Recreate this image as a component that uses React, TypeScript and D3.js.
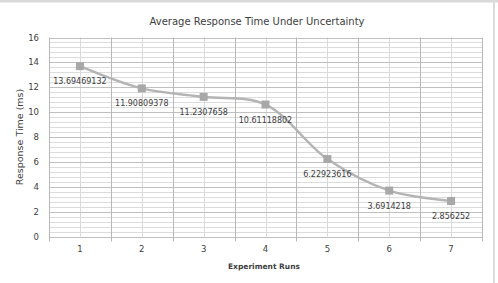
import React from "react";
import * as d3 from "d3";

const runs = ["1", "2", "3", "4", "5", "6", "7"];
const responseTimes = [13.69469132, 11.90809378, 11.2307658, 10.61118802, 6.22923616, 3.6914218, 2.856252];
const valueLabels = ["13.69469132", "11.90809378", "11.2307658", "10.61118802", "6.22923616", "3.6914218", "2.856252"];
const yTicks = [0, 2, 4, 6, 8, 10, 12, 14, 16];

const W = 498;
const H = 283;
const left = 49;
const right = 482;
const top = 37.5;
const bottom = 236.5;
const FONT = "'DejaVu Sans', Verdana, sans-serif";

export default function App() {
  const x = d3.scaleBand<string>().domain(runs).range([left, right]).padding(0);
  const y = d3.scaleLinear().domain([0, 16]).range([bottom, top]);
  const cx = (i: number) => (x(runs[i]) as number) + x.bandwidth() / 2;

  const minorTicks = d3.range(0, 16.001, 0.4);
  const line = d3
    .line<number>()
    .x((_, i) => cx(i))
    .y((d) => y(d))
    .curve(d3.curveCatmullRom.alpha(0.5));

  const boundaries = runs.map((r) => x(r) as number).concat([right]);

  return (
    <svg width={W} height={H} style={{ position: "absolute", left: 0, top: 0, display: "block" }}>
      <rect x={0} y={0} width={W} height={H} fill="#ffffff" />
      <rect x={0} y={0} width={W} height={2.5} fill="#d9d9d9" />
      <rect x={493} y={0} width={2} height={H} fill="#dcdcdc" />
      <text x={257} y={25} textAnchor="middle" fontFamily={FONT} fontSize={10} fill="#404040">
        Average Response Time Under Uncertainty
      </text>
      {minorTicks.map((t, i) => (
        <line key={"mh" + i} x1={left} x2={right} y1={Math.round(y(t)) + 0.5} y2={Math.round(y(t)) + 0.5} stroke="#dcdcdc" strokeWidth={1} />
      ))}
      {runs.map((r, i) => (
        <line key={"mv" + i} x1={Math.round(cx(i)) + 0.5} x2={Math.round(cx(i)) + 0.5} y1={top} y2={bottom} stroke="#dadada" strokeWidth={1} />
      ))}
      {yTicks.map((t) => (
        <line key={"h" + t} x1={left} x2={right} y1={Math.round(y(t)) + 0.5} y2={Math.round(y(t)) + 0.5} stroke="#c0c0c0" strokeWidth={1} />
      ))}
      {boundaries.map((b, i) => (
        <line key={"v" + i} x1={Math.round(b) + 0.5} x2={Math.round(b) + 0.5} y1={top} y2={bottom + 5} stroke="#b8b8b8" strokeWidth={1} />
      ))}
      {yTicks.map((t) => (
        <text key={"yl" + t} x={39} y={y(t) + 3} textAnchor="end" fontFamily={FONT} fontSize={8.5} fill="#404040">
          {t}
        </text>
      ))}
      {runs.map((r, i) => (
        <text key={"xl" + i} x={cx(i)} y={252} textAnchor="middle" fontFamily={FONT} fontSize={8.5} fill="#404040">
          {r}
        </text>
      ))}
      <text x={264} y={269} textAnchor="middle" fontFamily={FONT} fontSize={7.5} fontWeight="bold" fill="#404040">
        Experiment Runs
      </text>
      <text
        transform={`translate(23,${(top + bottom) / 2}) rotate(-90)`}
        textAnchor="middle"
        fontFamily={FONT}
        fontSize={9.5}
        fill="#404040"
      >
        Response Time (ms)
      </text>
      <path d={line(responseTimes) || ""} fill="none" stroke="#b4b4b4" strokeWidth={2.5} />
      {responseTimes.map((v, i) => (
        <rect key={"m" + i} x={cx(i) - 4} y={y(v) - 4} width={8} height={8} fill="#a8a8a8" />
      ))}
      {responseTimes.map((v, i) => (
        <text key={"dl" + i} x={cx(i)} y={y(v) + 18} textAnchor="middle" fontFamily={FONT} fontSize={8} fill="#404040">
          {valueLabels[i]}
        </text>
      ))}
    </svg>
  );
}
